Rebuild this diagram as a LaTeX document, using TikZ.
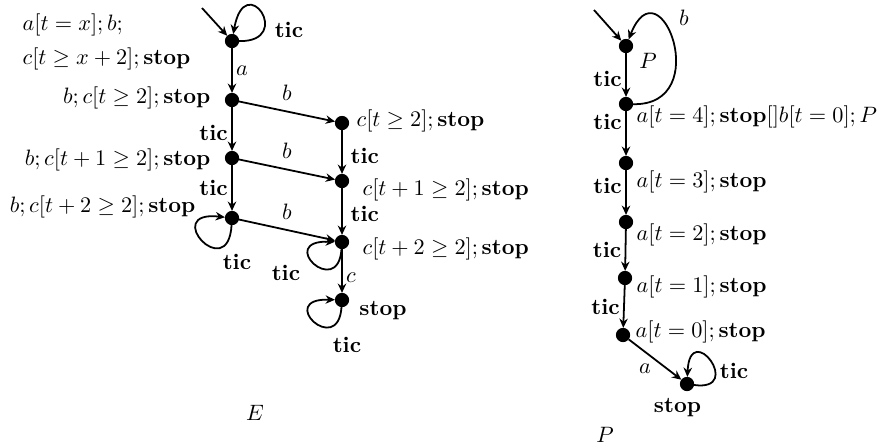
\documentclass[tikz,border=0pt]{standalone}
\usepackage{amsmath}
\usepackage{tikz}
\usetikzlibrary{
    arrows.meta,
    positioning
}
\definecolor{ink}{RGB}{0,0,0}
\tikzset{
    line cap=round,
    line join=round,
    state/.style={
        circle,
        fill=ink,
        draw=ink,
        inner sep=0pt,
        minimum size=0.21cm
    },
    trans/.style={
        -{Stealth[length=4.2pt, width=3.8pt]},
        draw=ink,
        line width=0.8pt
    },
    actlabel/.style={
        font=\normalfont\normalsize,
        text=ink,
        inner sep=1.5pt
    },
    ticlabel/.style={
        actlabel,
        font=\normalfont\bfseries
    },
    stlabel/.style={
        font=\normalfont\normalsize,
        text=ink,
        inner sep=1pt
    },
    paneltitle/.style={
        font=\normalfont\normalsize,
        text=ink
    }
}

\begin{document}
\begin{tikzpicture}[x=0.0158cm, y=-0.0158cm]
\useasboundingbox (0,0) rectangle (879,446);

% Left: E
\node[state] (e0) at (232,41) {};
\node[state] (e1) at (232,100) {};
\node[state] (e2) at (232,158) {};
\node[state] (e3) at (232,218) {};
\node[state] (f1) at (342,123) {};
\node[state] (f2) at (342,181) {};
\node[state] (f3) at (342,242) {};
\node[state] (f4) at (342,300) {};
\coordinate (e0in) at (202,8);

\node[stlabel, align=left, anchor=west] (e0txt) at (20,42) {$a[t=x];b;$\\[3pt]$c[t\geq x+2];\mathbf{stop}$};
\node[stlabel, anchor=east] (e1txt) at (213,98) {$b;c[t\geq 2];\mathbf{stop}$};
\node[stlabel, anchor=east] (e2txt) at (213,160) {$b;c[t+1\geq 2];\mathbf{stop}$};
\node[stlabel, anchor=east] (e3txt) at (198,207) {$b;c[t+2\geq 2];\mathbf{stop}$};
\node[stlabel, anchor=west] (f1txt) at (354,121) {$c[t\geq 2];\mathbf{stop}$};
\node[stlabel, anchor=west] (f2txt) at (360,190) {$c[t+1\geq 2];\mathbf{stop}$};
\node[stlabel, anchor=west] (f3txt) at (360,249) {$c[t+2\geq 2];\mathbf{stop}$};
\node[stlabel] (f4txt) at (383,311) {$\mathbf{stop}$};

\draw[trans] (e0in) -- (e0);
\draw[trans] (e0) .. controls (295,42) and (245,-32) .. (e0);
\draw[trans] (e0) -- node[midway, right, actlabel] {$a$} (e1);
\draw[trans] (e1) -- node[pos=0.6, left, ticlabel] {tic} (e2);
\draw[trans] (e2) -- node[midway, left, ticlabel] {tic} (e3);
\draw[trans] (e3) .. controls (228,285) and (160,210) .. (e3);
\draw[trans] (e1) -- node[midway, above=3pt, actlabel] {$b$} (f1);
\draw[trans] (e2) -- node[midway, above=3pt, actlabel] {$b$} (f2);
\draw[trans] (e3) -- node[midway, above=3pt, actlabel] {$b$} (f3);
\draw[trans] (f1) -- node[pos=0.6, right=2pt, ticlabel] {tic} (f2);
\draw[trans] (f2) -- node[pos=0.55, right=2pt, ticlabel] {tic} (f3);
\draw[trans] (f3) -- node[pos=0.65, right, actlabel] {$c$} (f4);
\draw[trans] (f3) .. controls (338,300) and (275,240) .. (f3);
\draw[trans] (f4) .. controls (338,358) and (275,298) .. (f4);

\node[ticlabel] (e0tic) at (289,30) {tic};
\node[ticlabel] (e3tic) at (237,262) {tic};
\node[ticlabel] (f3tic) at (286,273) {tic};
\node[ticlabel] (f4tic) at (347,345) {tic};
\node[paneltitle] (etitle) at (255,413) {$E$};

% Right: P
\node[state] (p0) at (626,46) {};
\node[state] (p1) at (626,104) {};
\node[state] (p2) at (626,163) {};
\node[state] (p3) at (626,222) {};
\node[state] (p4) at (625,278) {};
\node[state] (p5) at (623,335) {};
\node[state] (p6) at (687,384) {};
\coordinate (p0in) at (594,10);

\node[stlabel] (p0txt) at (648,61) {$P$};
\node[stlabel, anchor=west] (p1txt) at (634,117) {$a[t=4];\mathbf{stop}[]b[t=0];P$};
\node[stlabel, anchor=west] (p2txt) at (634,182) {$a[t=3];\mathbf{stop}$};
\node[stlabel, anchor=west] (p3txt) at (634,235) {$a[t=2];\mathbf{stop}$};
\node[stlabel, anchor=west] (p4txt) at (634,287) {$a[t=1];\mathbf{stop}$};
\node[stlabel, anchor=west] (p5txt) at (633,332) {$a[t=0];\mathbf{stop}$};
\node[stlabel, below=2pt of p6, xshift=-0.15cm] (p6txt) {$\mathbf{stop}$};

\draw[trans] (p0in) -- (p0);
\draw[trans] (p0) -- node[pos=0.6, left, ticlabel] {tic} (p1);
\draw[trans] (p1) .. controls (715,106) and (660,-40) .. (p0);
\draw[trans] (p1) -- node[pos=0.25, left, ticlabel] {tic} (p2);
\draw[trans] (p2) -- node[pos=0.35, left, ticlabel] {tic} (p3);
\draw[trans] (p3) -- node[midway, left, ticlabel] {tic} (p4);
\draw[trans] (p4) -- node[midway, left, ticlabel] {tic} (p5);
\draw[trans] (p5) -- node[midway, below left, actlabel] {$a$} (p6);
\draw[trans] (p6) .. controls (745,392) and (690,318) .. (p6);

\node[actlabel] (p1b) at (684,18) {$b$};
\node[ticlabel] (p6tic) at (734,371) {tic};
\node[paneltitle] (ptitle) at (605,435) {$P$};

\end{tikzpicture}
\end{document}
